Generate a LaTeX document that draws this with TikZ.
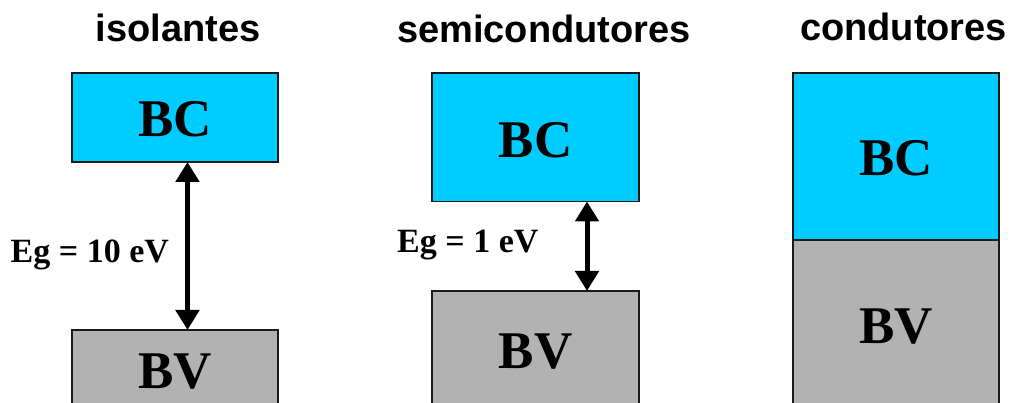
\documentclass[tikz,border=0pt]{standalone}
\usepackage{fontspec}
\setmainfont{Liberation Serif}
\newfontfamily\titlefont{Liberation Sans}
\usetikzlibrary{arrows.meta}
\definecolor{bandc}{HTML}{00CCFF}
\definecolor{bandv}{HTML}{B2B2B2}
\definecolor{edge}{HTML}{1A1A1A}
\tikzset{
  band/.style={draw=edge, line width=1.5pt, inner sep=0pt, outer sep=0pt},
  bc/.style={band, fill=bandc},
  bv/.style={band, fill=bandv},
  bandlabel/.style={inner sep=0pt, anchor=base, font=\fontsize{53}{53}\selectfont\bfseries},
  title/.style={inner sep=0pt, anchor=base, font=\titlefont\fontsize{38}{38}\selectfont\bfseries},
  eglabel/.style={inner sep=0pt, anchor=base west, font=\fontsize{34}{34}\selectfont\bfseries},
  gaparrow/.style={line width=5pt, {Triangle[width=23pt,length=20pt]}-{Triangle[width=23pt,length=20pt]}}
}
\begin{document}
\begin{tikzpicture}[x=1pt,y=-1pt]
\useasboundingbox (0,0) rectangle (1013,403);
\clip (0,0) rectangle (1013,403);
\fill[white] (0,0) rectangle (1013,403);
% titles
\node[title] (tiso) at (178,41.5) {isolantes};
\node[title] (tsemi) at (544,42.5) {semicondutores};
\node[title] (tcond) at (903.5,41) {condutores};
% isolantes
\node[bc, minimum width=206pt, minimum height=89pt] (iBC) at (175,117.5) {};
\node[bv, minimum width=206pt, minimum height=90pt] (iBV) at (175,375) {};
\node[bandlabel] (iBCt) at (175,137) {BC};
\node[bandlabel] (iBVt) at (175,388.5) {BV};
\draw[gaparrow] ([xshift=12.5pt]iBC.south) -- ([xshift=12.5pt]iBV.north);
\node[eglabel] (iEg) at (10.5,263) {Eg = 10 eV};
% semicondutores
\node[bc, minimum width=207pt, minimum height=128.5pt] (sBC) at (535.5,137.25) {};
\node[bv, minimum width=207pt, minimum height=129pt] (sBV) at (535.5,355.5) {};
\node[bandlabel] (sBCt) at (535.5,157.5) {BC};
\node[bandlabel] (sBVt) at (535.5,368.5) {BV};
\draw[gaparrow] ([xshift=51.5pt]sBC.south) -- ([xshift=51.5pt]sBV.north);
\node[eglabel] (sEg) at (397,253) {Eg = 1 eV};
% condutores
\node[bc, minimum width=206pt, minimum height=167pt] (cBC) at (896,156.5) {};
\node[bv, minimum width=206pt, minimum height=180pt] (cBV) at (896,330) {};
\node[bandlabel] (cBCt) at (896,175.5) {BC};
\node[bandlabel] (cBVt) at (896,343.5) {BV};
\end{tikzpicture}
\end{document}
